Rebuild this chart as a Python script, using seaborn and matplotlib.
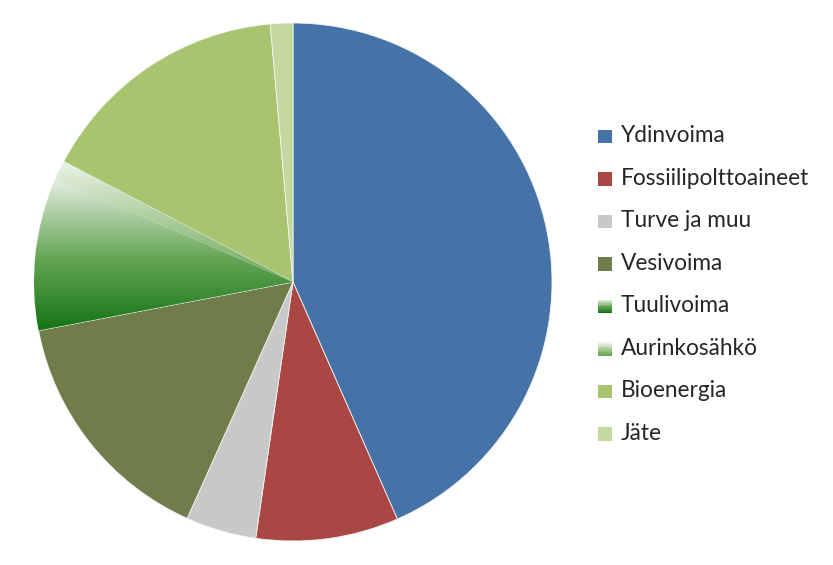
import numpy as np
import seaborn as sns
import matplotlib
matplotlib.use("Agg")
import matplotlib.pyplot as plt
from matplotlib.colors import LinearSegmentedColormap
from matplotlib.patches import Rectangle
from matplotlib.legend_handler import HandlerBase

# Data (shares in %)
labels = ["Ydinvoima", "Fossiilipolttoaineet", "Turve ja muu", "Vesivoima",
          "Tuulivoima", "Aurinkosähkö", "Bioenergia", "Jäte"]
shares = [43.4, 8.9, 4.4, 15.3, 9.5, 1.2, 15.9, 1.4]
colors = ["#4572A7", "#AA4643", "#C8C8C8", "#6E7D4A",
          "#3E8E33", "#8DBB78", "#A9C46F", "#C3D9A0"]
gradient_slices = {"Tuulivoima": ["#e4eedf", "#6aa85a", "#137313"],
                   "Aurinkosähkö": ["#eef4ea", "#a9cc98", "#6da85c"]}

sns.set_theme(style="white")
plt.rcParams["font.family"] = ["Lato", "DejaVu Sans"]

fig = plt.figure(figsize=(8.33, 5.65), dpi=100)
cx, cy, r = 293, 282, 259
ax = fig.add_axes([(cx - r) / 833, (565 - cy - r) / 565, 2 * r / 833, 2 * r / 565])

wedges, _ = ax.pie(shares, colors=colors, startangle=90, counterclock=False,
                   radius=1, wedgeprops=dict(linewidth=0.6, edgecolor="#f4f4f4"))
ax.set_aspect("equal")
ax.axis("off")

# vertical gradient fills for wind and solar
for w, lab in zip(wedges, labels):
    if lab in gradient_slices:
        cmap = LinearSegmentedColormap.from_list(lab, gradient_slices[lab])
        ext = w.get_path().get_extents()
        grad = np.linspace(0, 1, 256).reshape(-1, 1)
        im = ax.imshow(grad, cmap=cmap, aspect="auto", origin="upper",
                       extent=[ext.x0, ext.x1, ext.y0, ext.y1], zorder=w.get_zorder() + 0.1)
        im.set_clip_path(w)
        w.set_facecolor("none")
ax.set_xlim(-1, 1)
ax.set_ylim(-1, 1)


class GradHandler(HandlerBase):
    def __init__(self, cols):
        super().__init__()
        self.cols = cols

    def create_artists(self, legend, orig, xd, yd, width, height, fontsize, trans):
        cmap = LinearSegmentedColormap.from_list("g", self.cols)
        n = 8
        s = height
        arts = []
        for i in range(n):
            arts.append(Rectangle((xd + width - s, yd + s - (i + 1) * s / n), s, s / n,
                                  facecolor=cmap(i / (n - 1)), edgecolor="none", transform=trans))
        return arts


class SquareHandler(HandlerBase):
    def create_artists(self, legend, orig, xd, yd, width, height, fontsize, trans):
        s = height
        return [Rectangle((xd + width - s, yd), s, s, facecolor=orig.get_facecolor(),
                          edgecolor="none", transform=trans)]


handles = [Rectangle((0, 0), 1, 1, facecolor=c) for c in colors]
hmap = {}
for h, lab in zip(handles, labels):
    if lab in gradient_slices:
        hmap[h] = GradHandler(gradient_slices[lab])
    else:
        hmap[h] = SquareHandler()

fig.legend(handles, labels, handler_map=hmap, loc="upper left",
           bbox_to_anchor=(590 / 833, 1 - 116 / 565), frameon=False,
           fontsize=16.3, handlelength=0.55, handleheight=0.55, handletextpad=0.4,
           labelspacing=0.95, borderaxespad=0)

fig.savefig("out.png", dpi=100)
